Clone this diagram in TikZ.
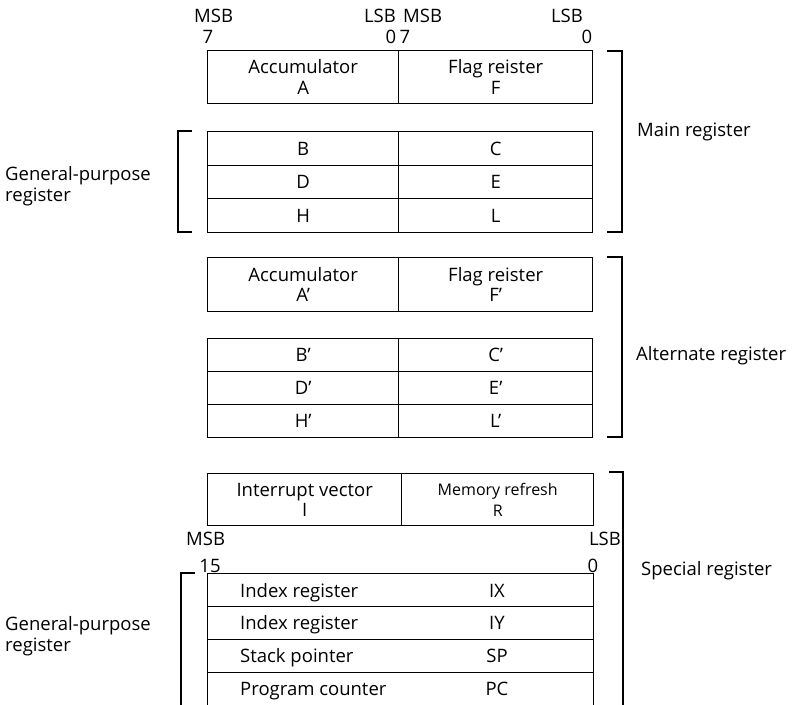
\documentclass[tikz,border=0pt]{standalone}
\usepackage{fontspec}
\setmainfont{Open Sans}
\begin{document}
\begin{tikzpicture}[x=1pt,y=-1pt,
  lbl/.style={inner sep=0pt, font=\fontsize{18.5}{20}\selectfont},
  cell/.style={draw, line width=1.4pt, inner sep=0pt, anchor=north west,
    font=\fontsize{18.5}{20.5}\selectfont, align=center},
  row/.style={cell, text height=13pt, text depth=0pt},
  brk/.style={line width=1.3pt}]
\useasboundingbox (0,0) rectangle (803,704);
\clip (0,0) rectangle (803,704);

% ---------- bit labels (top) ----------
\node[lbl, anchor=base west] (msbA) at (194,22) {MSB};
\node[lbl, anchor=base] (sevA) at (208,43) {7};
\node[lbl, anchor=base east] (lsbA) at (396,22) {LSB};
\node[lbl, anchor=base west] (msbF) at (403,22) {MSB};
\node[lbl, anchor=base] (zeroA) at (391,43) {0};
\node[lbl, anchor=base] (sevF) at (405,43) {7};
\node[lbl, anchor=base east] (lsbF) at (583,22) {LSB};
\node[lbl, anchor=base] (zeroF) at (587,43) {0};

% ---------- main register ----------
\node[cell, minimum width=191pt, minimum height=53pt] (acc) at (207,50) {Accumulator\\A};
\node[cell, minimum width=194pt, minimum height=53pt] (flag) at (398,50) {Flag reister\\F};
\node[row, minimum width=191pt, minimum height=34pt] (b) at (207,131) {B};
\node[row, minimum width=194pt, minimum height=34pt] (c) at (398,131) {C};
\node[row, minimum width=191pt, minimum height=33pt] (d) at (207,165) {D};
\node[row, minimum width=194pt, minimum height=33pt] (e) at (398,165) {E};
\node[row, minimum width=191pt, minimum height=34pt] (h) at (207,198) {H};
\node[row, minimum width=194pt, minimum height=34pt] (l) at (398,198) {L};

\draw[brk] (607,51) -- (622,51) -- (622,232) -- (607,232);
\node[lbl, anchor=base west] (mainlbl) at (637,136) {Main register};
\draw[brk] (192,131) -- (178,131) -- (178,232) -- (192,232);
\node[lbl, anchor=base west] (gp1a) at (5,180) {General-purpose};
\node[lbl, anchor=base west] (gp1b) at (5,201) {register};

% ---------- alternate register ----------
\node[cell, minimum width=191pt, minimum height=54pt] (acc2) at (207,257) {Accumulator\\A’};
\node[cell, minimum width=194pt, minimum height=54pt] (flag2) at (398,257) {Flag reister\\F’};
\node[row, minimum width=191pt, minimum height=33pt] (b2) at (207,338) {B’};
\node[row, minimum width=194pt, minimum height=33pt] (c2) at (398,338) {C’};
\node[row, minimum width=191pt, minimum height=33pt] (d2) at (207,371) {D’};
\node[row, minimum width=194pt, minimum height=33pt] (e2) at (398,371) {E’};
\node[row, minimum width=191pt, minimum height=33pt] (h2) at (207,404) {H’};
\node[row, minimum width=194pt, minimum height=33pt] (l2) at (398,404) {L’};

\draw[brk] (607,257) -- (622,257) -- (622,437) -- (607,437);
\node[lbl, anchor=base west] (altlbl) at (636,360) {Alternate register};

% ---------- special register ----------
\node[cell, minimum width=194pt, minimum height=52pt] (iv) at (207,473) {Interrupt vector\\I};
\node[cell, minimum width=192pt, minimum height=52pt, font=\fontsize{16}{21}\selectfont] (mr) at (401,473) {Memory refresh\\R};

\node[lbl, anchor=base west] (msbB) at (186,545) {MSB};
\node[lbl, anchor=base east] (lsbB) at (621,545) {LSB};
\node[lbl, anchor=base] (fifteen) at (210,572) {15};
\node[lbl, anchor=base] (zeroB) at (593,572) {0};

\node[cell, minimum width=386pt, minimum height=33pt] (ix) at (207,573) {};
\node[cell, minimum width=386pt, minimum height=33pt] (iy) at (207,606) {};
\node[cell, minimum width=386pt, minimum height=33pt] (sp) at (207,639) {};
\node[cell, minimum width=386pt, minimum height=40pt] (pc) at (207,672) {};

\node[lbl, anchor=base west] (ixn) at (240,597) {Index register};
\node[lbl, anchor=base] (ixc) at (497,597) {IX};
\node[lbl, anchor=base west] (iyn) at (240,629) {Index register};
\node[lbl, anchor=base] (iyc) at (497,629) {IY};
\node[lbl, anchor=base west] (spn) at (240,662) {Stack pointer};
\node[lbl, anchor=base] (spc) at (497,662) {SP};
\node[lbl, anchor=base west] (pcn) at (240,695) {Program counter};
\node[lbl, anchor=base] (pcc) at (497,695) {PC};

\draw[brk] (609,472) -- (623,472) -- (623,712);
\node[lbl, anchor=base west] (speclbl) at (641,575) {Special register};
\draw[brk] (195,573) -- (181,573) -- (181,712);
\node[lbl, anchor=base west] (gp2a) at (5,630) {General-purpose};
\node[lbl, anchor=base west] (gp2b) at (5,651) {register};
\end{tikzpicture}
\end{document}
